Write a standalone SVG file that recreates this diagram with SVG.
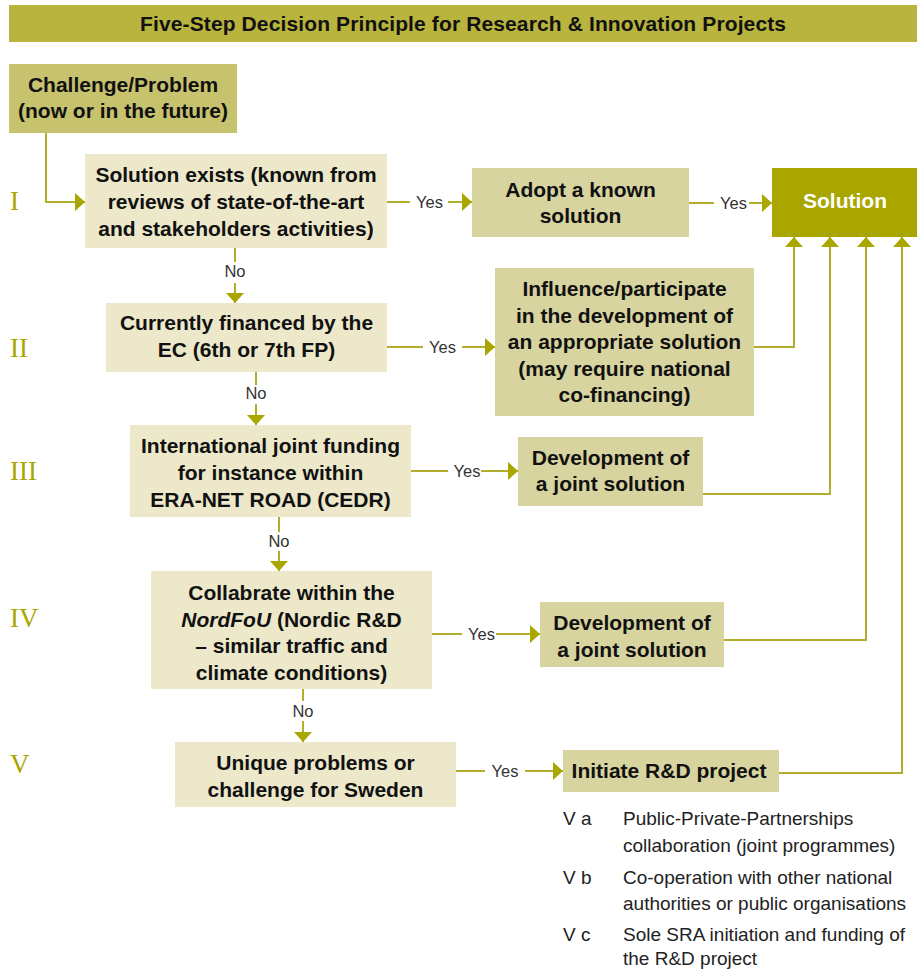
<svg xmlns="http://www.w3.org/2000/svg" width="917" height="971" viewBox="0 0 917 971">
<style>
.b{font-family:"Liberation Sans",Arial,sans-serif;font-weight:bold;font-size:21px;fill:#111;text-anchor:middle}
.lbl{font-family:"Liberation Sans",Arial,sans-serif;font-size:16.5px;fill:#333;text-anchor:middle}
.num{font-family:"Liberation Serif","Times New Roman",serif;font-size:27px;fill:#a9a600}
.lst{font-family:"Liberation Sans",Arial,sans-serif;font-size:19px;fill:#222}
.light{fill:#ece8c9}
.mid{fill:#d8d49f}
.con{fill:none;stroke:#b3ae2a;stroke-width:2}
</style>
<defs>
<marker id="ah" markerUnits="userSpaceOnUse" markerWidth="10" markerHeight="18" refX="10" refY="9" orient="auto">
<path d="M0,0 L10,9 L0,18 Z" fill="#a9a600"/>
</marker>
</defs>
<rect width="917" height="971" fill="#fff"/>
<g id="title">
<rect x="9" y="5" width="908" height="37" fill="#b8b43e"/>
<text class="b" x="463" y="31" textLength="646" lengthAdjust="spacing">Five-Step Decision Principle for Research &amp; Innovation Projects</text>
</g>
<g id="numerals">
<text class="num" x="10" y="210">I</text>
<text class="num" x="10" y="357">II</text>
<text class="num" x="10" y="480">III</text>
<text class="num" x="10" y="627">IV</text>
<text class="num" x="10" y="773">V</text>
</g>
<g id="connectors">
<path class="con" d="M46,133 V202 H85" marker-end="url(#ah)"/>
<path class="con" d="M387,202 H410"/>
<path class="con" d="M448,202 H472" marker-end="url(#ah)"/>
<path class="con" d="M689,203 H714"/>
<path class="con" d="M749,203 H772" marker-end="url(#ah)"/>
<path class="con" d="M235,248 V262"/>
<path class="con" d="M235,283 V303" marker-end="url(#ah)"/>
<path class="con" d="M387,347 H423"/>
<path class="con" d="M462,347 H495" marker-end="url(#ah)"/>
<path class="con" d="M754,347 H794 V237" marker-end="url(#ah)"/>
<path class="con" d="M256,372 V385"/>
<path class="con" d="M256,404 V425" marker-end="url(#ah)"/>
<path class="con" d="M411,471 H448"/>
<path class="con" d="M481,471 H518" marker-end="url(#ah)"/>
<path class="con" d="M703,494 H830 V237" marker-end="url(#ah)"/>
<path class="con" d="M279,517 V532"/>
<path class="con" d="M279,551 V571" marker-end="url(#ah)"/>
<path class="con" d="M432,634 H462"/>
<path class="con" d="M496,634 H540" marker-end="url(#ah)"/>
<path class="con" d="M724,640 H866 V237" marker-end="url(#ah)"/>
<path class="con" d="M303,689 V701"/>
<path class="con" d="M303,721 V742" marker-end="url(#ah)"/>
<path class="con" d="M456,771 H485"/>
<path class="con" d="M525,771 H563" marker-end="url(#ah)"/>
<path class="con" d="M779,773 H902 V237" marker-end="url(#ah)"/>
<text class="lbl" x="429.5" y="208">Yes</text>
<text class="lbl" x="733.5" y="209">Yes</text>
<text class="lbl" x="442.5" y="353">Yes</text>
<text class="lbl" x="467" y="477">Yes</text>
<text class="lbl" x="481.5" y="640">Yes</text>
<text class="lbl" x="505" y="777">Yes</text>
<text class="lbl" x="235" y="277">No</text>
<text class="lbl" x="256" y="399">No</text>
<text class="lbl" x="279" y="547">No</text>
<text class="lbl" x="303" y="717">No</text>
</g>
<g id="challenge">
<rect x="9" y="64" width="228" height="69" fill="#c7c26e"/>
<text class="b" x="123" y="92">Challenge/Problem</text>
<text class="b" x="123" y="118">(now or in the future)</text>
</g>
<g id="step1">
<rect class="light" x="85" y="154" width="302" height="94"/>
<text class="b" x="236" y="182">Solution exists (known from</text>
<text class="b" x="236" y="209">reviews of state-of-the-art</text>
<text class="b" x="236" y="236">and stakeholders activities)</text>
</g>
<g id="adopt">
<rect class="mid" x="472" y="168" width="217" height="69"/>
<text class="b" x="580.5" y="197">Adopt a known</text>
<text class="b" x="580.5" y="223">solution</text>
</g>
<g id="solution">
<rect x="772" y="168" width="145" height="69" fill="#a9a600"/>
<text class="b" x="845" y="208" style="fill:#fff">Solution</text>
</g>
<g id="step2">
<rect class="light" x="106" y="303" width="281" height="69"/>
<text class="b" x="246.5" y="330">Currently financed by the</text>
<text class="b" x="246.5" y="357">EC (6th or 7th FP)</text>
</g>
<g id="influence">
<rect class="mid" x="495" y="268" width="259" height="148"/>
<text class="b" x="624.5" y="296">Influence/participate</text>
<text class="b" x="624.5" y="323">in the development of</text>
<text class="b" x="624.5" y="349">an appropriate solution</text>
<text class="b" x="624.5" y="376">(may require national</text>
<text class="b" x="624.5" y="402">co-financing)</text>
</g>
<g id="step3">
<rect class="light" x="130" y="425" width="281" height="92"/>
<text class="b" x="270.5" y="453">International joint funding</text>
<text class="b" x="270.5" y="480">for instance within</text>
<text class="b" x="270.5" y="507">ERA-NET ROAD (CEDR)</text>
</g>
<g id="dev1">
<rect class="mid" x="518" y="437" width="185" height="69"/>
<text class="b" x="610.5" y="465">Development of</text>
<text class="b" x="610.5" y="491">a joint solution</text>
</g>
<g id="step4">
<rect class="light" x="151" y="571" width="281" height="118"/>
<text class="b" x="291.5" y="600">Collabrate within the</text>
<text class="b" x="291.5" y="627"><tspan font-style="italic">NordFoU</tspan> (Nordic R&amp;D</text>
<text class="b" x="291.5" y="653">– similar traffic and</text>
<text class="b" x="291.5" y="680">climate conditions)</text>
</g>
<g id="dev2">
<rect class="mid" x="540" y="602" width="184" height="65"/>
<text class="b" x="632" y="630">Development of</text>
<text class="b" x="632" y="657">a joint solution</text>
</g>
<g id="step5">
<rect class="light" x="175" y="742" width="281" height="65"/>
<text class="b" x="315.5" y="770">Unique problems or</text>
<text class="b" x="315.5" y="797">challenge for Sweden</text>
</g>
<g id="initiate">
<rect class="mid" x="563" y="750" width="216" height="42"/>
<text class="b" x="669" y="778">Initiate R&amp;D project</text>
</g>
<g id="options">
<text class="lst" x="563" y="825">V a</text>
<text class="lst" x="623" y="825">Public-Private-Partnerships</text>
<text class="lst" x="623" y="852">collaboration (joint programmes)</text>
<text class="lst" x="563" y="884">V b</text>
<text class="lst" x="623" y="884">Co-operation with other national</text>
<text class="lst" x="623" y="910">authorities or public organisations</text>
<text class="lst" x="563" y="941">V c</text>
<text class="lst" x="623" y="941">Sole SRA initiation and funding of</text>
<text class="lst" x="623" y="965">the R&amp;D project</text>
</g>
</svg>
